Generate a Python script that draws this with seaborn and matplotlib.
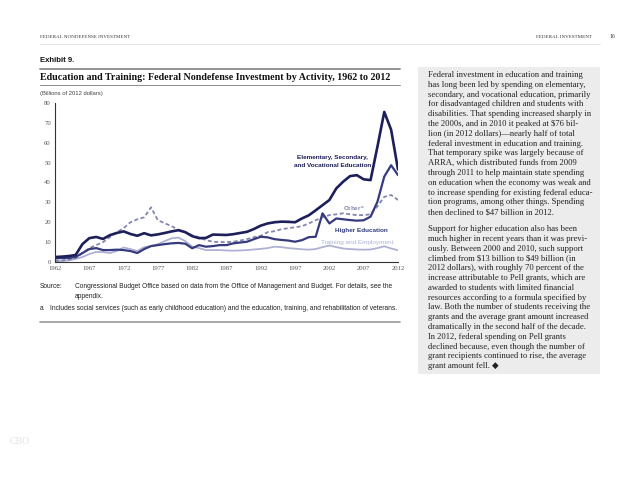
import numpy as np
import pandas as pd
import matplotlib
matplotlib.use("Agg")
import matplotlib.pyplot as plt
import seaborn as sns
from matplotlib.lines import Line2D
from matplotlib.patches import Rectangle

sns.set_theme(style="white")
plt.rcParams['font.family'] = ['Liberation Sans', 'DejaVu Sans']

years = list(range(1962, 2013))
elementary = [2.5, 2.7, 3.0, 3.5, 9.0, 12.0, 12.6, 11.6, 13.5, 14.6, 15.4, 14.1, 13.2, 14.5, 13.4,
              13.9, 14.6, 15.4, 16.0, 15.0, 13.0, 12.0, 12.1, 13.8, 13.7, 13.6, 14.0, 14.6, 15.2,
              16.6, 18.3, 19.4, 20.0, 20.3, 20.2, 20.0, 21.9, 23.5, 26.0, 28.6, 31.2, 37.0, 40.4,
              43.2, 43.7, 41.6, 41.2, 58.0, 75.5, 66.5, 46.5]
higher_ed = [1.8, 2.0, 2.0, 2.5, 4.5, 6.5, 7.0, 6.0, 6.0, 6.2, 6.0, 5.5, 4.5, 6.5, 8.0,
             8.5, 9.0, 9.4, 9.6, 9.2, 6.9, 8.5, 7.7, 8.0, 8.5, 8.5, 9.4, 9.8, 10.2,
             11.5, 12.7, 12.4, 11.5, 11.1, 10.8, 10.2, 11.0, 12.5, 12.7, 24.5, 19.4, 21.9, 21.5,
             21.1, 20.8, 21.0, 22.8, 30.3, 43.0, 48.7, 43.7]
other = [0.5, 0.8, 1.2, 2.0, 4.5, 7.0, 8.5, 10.0, 12.5, 15.0, 17.0, 20.0, 21.5, 22.5, 27.5,
         21.0, 19.5, 18.0, 16.2, 15.0, 13.5, 12.4, 11.0, 10.2, 10.0, 10.0, 10.2, 10.8, 11.5,
         12.5, 13.2, 15.0, 15.5, 16.5, 17.0, 17.5, 18.0, 19.4, 21.0, 22.5, 23.6, 24.0, 24.5,
         24.0, 23.6, 23.6, 24.0, 28.0, 32.8, 33.7, 31.2]
training = [0.3, 0.5, 0.8, 1.5, 2.5, 4.0, 5.0, 5.0, 4.5, 5.5, 7.3, 6.5, 5.5, 7.5, 8.0,
            9.0, 10.5, 11.9, 12.3, 10.5, 7.7, 7.0, 6.0, 6.0, 6.0, 5.8, 5.7, 5.8, 6.0,
            6.3, 6.6, 7.0, 7.7, 7.5, 7.0, 6.7, 6.4, 6.2, 6.5, 7.5, 8.3, 7.5, 6.8,
            6.5, 6.3, 6.2, 6.3, 7.0, 7.9, 6.8, 5.9]
x_ticks = [1962, 1967, 1972, 1977, 1982, 1987, 1992, 1997, 2002, 2007, 2012]
y_ticks = [0, 10, 20, 30, 40, 50, 60, 70, 80]

W, H = 638, 493
fig = plt.figure(figsize=(W / 100, H / 100), dpi=100)
fig.patch.set_facecolor('white')

def P(x, y):
    return (x / W, 1 - y / H)

C_EL = '#1c1f5a'
C_HE = '#353b7c'
C_OT = '#8486ae'
C_TR = '#aeb1d4'

ax = fig.add_axes([55 / W, 1 - 262 / H, (398 - 55) / W, (262 - 103) / H])
df = pd.DataFrame({'year': years, 'Elementary': elementary, 'Higher': higher_ed,
                   'Other': other, 'Training': training})
sns.lineplot(data=df, x='year', y='Training', ax=ax, color=C_TR, lw=1.3)
sns.lineplot(data=df, x='year', y='Other', ax=ax, color=C_OT, lw=1.3, linestyle=(0, (2.2, 1.4)))
sns.lineplot(data=df, x='year', y='Higher', ax=ax, color=C_HE, lw=1.6)
sns.lineplot(data=df, x='year', y='Elementary', ax=ax, color=C_EL, lw=1.9)
ax.set_xlim(1962, 2012)
ax.set_ylim(0, 80)
ax.set_xticks(x_ticks)
ax.set_yticks(y_ticks)
ax.set_xticklabels([str(v) for v in x_ticks], family='Liberation Serif', fontsize=4.8, color='#555555')
ax.set_yticklabels([str(v) for v in y_ticks], family='Liberation Serif', fontsize=4.8, color='#555555')
ax.set_xlabel('')
ax.set_ylabel('')
for s in ['top', 'right']:
    ax.spines[s].set_visible(False)
for s in ['left', 'bottom']:
    ax.spines[s].set_color('#333333')
    ax.spines[s].set_linewidth(0.8)
ax.tick_params(axis='both', direction='in', length=2.5, width=0.6, color='#333333', pad=3)
ax.set_facecolor('white')

# Line labels
ann = dict(family='Liberation Sans', fontsize=4.6, fontweight='bold', ha='center', va='center')
ax.text(2002.4, 52.6, 'Elementary, Secondary,', color=C_EL, **ann)
ax.text(2002.4, 48.6, 'and Vocational Education', color=C_EL, **ann)
ax.text(2005.6, 26.6, 'Other$^{\\mathregular{a}}$', color=C_OT, **ann)
ax.text(2006.7, 16.1, 'Higher Education', color=C_HE, **ann)
ax.text(2006.0, 9.7, 'Training and Employment', color=C_TR, family='Liberation Sans',
        fontsize=4.6, ha='center', va='center')

# Header
fig.text(*P(40, 37), 'FEDERAL NONDEFENSE INVESTMENT', family='Liberation Serif', fontsize=3.6,
         color='#333333', va='center')
fig.text(*P(592, 37), 'FEDERAL INVESTMENT', family='Liberation Serif', fontsize=3.6,
         color='#333333', va='center', ha='right')
fig.text(*P(610, 37), '16', family='Liberation Serif', fontsize=4.2, color='#333333', va='center')
fig.add_artist(Line2D([40 / W, 600 / W], [1 - 43.5 / H] * 2, color='#dddddd', lw=0.6))

# Exhibit title
fig.text(*P(40, 60), 'Exhibit 9.', family='Liberation Sans', fontsize=5.6, fontweight='bold',
         color='#111111', va='center')
fig.add_artist(Line2D([40 / W, 400 / W], [1 - 68.5 / H] * 2, color='#8a8a8a', lw=1.3))
fig.text(*P(40, 77), 'Education and Training: Federal Nondefense Investment by Activity, 1962 to 2012',
         family='Liberation Serif', fontsize=7.2, fontweight='bold', color='#111111', va='center')
fig.add_artist(Line2D([40 / W, 400 / W], [1 - 85.5 / H] * 2, color='#8a8a8a', lw=0.7))
fig.text(*P(40, 93.5), '(Billions of 2012 dollars)', family='Liberation Sans', fontsize=4.2,
         color='#444444', va='center')

# Source and notes
nt = dict(family='Liberation Sans', fontsize=4.75, color='#222222', va='center')
fig.text(*P(40, 287), 'Source:', **nt)
fig.text(*P(75, 287), 'Congressional Budget Office based on data from the Office of Management and Budget. For details, see the', **nt)
fig.text(*P(75, 296), 'appendix.', **nt)
fig.text(*P(40, 309), 'a.', **nt)
fig.text(*P(50, 309), 'Includes social services (such as early childhood education) and the education, training, and rehabilitation of veterans.', **nt)
fig.add_artist(Line2D([40 / W, 400 / W], [1 - 322 / H] * 2, color='#9a9a9a', lw=1.2))

# Right panel box
fig.add_artist(Rectangle(P(418, 374), (600 - 418) / W, (374 - 67) / H, facecolor='#ececec',
                         edgecolor='none', zorder=0))
para1 = ["Federal investment in education and training",
         "has long been led by spending on elementary,",
         "secondary, and vocational education, primarily",
         "for disadvantaged children and students with",
         "disabilities. That spending increased sharply in",
         "the 2000s, and in 2010 it peaked at $76 bil-",
         "lion (in 2012 dollars)\u2014nearly half of total",
         "federal investment in education and training.",
         "That temporary spike was largely because of",
         "ARRA, which distributed funds from 2009",
         "through 2011 to help maintain state spending",
         "on education when the economy was weak and",
         "to increase spending for existing federal educa-",
         "tion programs, among other things. Spending",
         "then declined to $47 billion in 2012."]
para2 = ["Support for higher education also has been",
         "much higher in recent years than it was previ-",
         "ously. Between 2000 and 2010, such support",
         "climbed from $13 billion to $49 billion (in",
         "2012 dollars), with roughly 70 percent of the",
         "increase attributable to Pell grants, which are",
         "awarded to students with limited financial",
         "resources according to a formula specified by",
         "law. Both the number of students receiving the",
         "grants and the average grant amount increased",
         "dramatically in the second half of the decade.",
         "In 2012, federal spending on Pell grants",
         "declined because, even though the number of",
         "grant recipients continued to rise, the average",
         "grant amount fell. \u25c6"]
bt = dict(family=['Liberation Serif', 'DejaVu Sans'], fontsize=6.2, color='#222222', va='center',
          parse_math=False)
y = 75.0
for line in para1:
    fig.text(*P(428, y), line, **bt)
    y += 9.8
y += 7.0
for line in para2:
    fig.text(*P(428, y), line, **bt)
    y += 9.8

fig.text(*P(10, 441), 'CBO', family='Liberation Serif', fontsize=7, color='#e2e2e2', va='center')

fig.savefig('out.png', dpi=100, facecolor='white')
